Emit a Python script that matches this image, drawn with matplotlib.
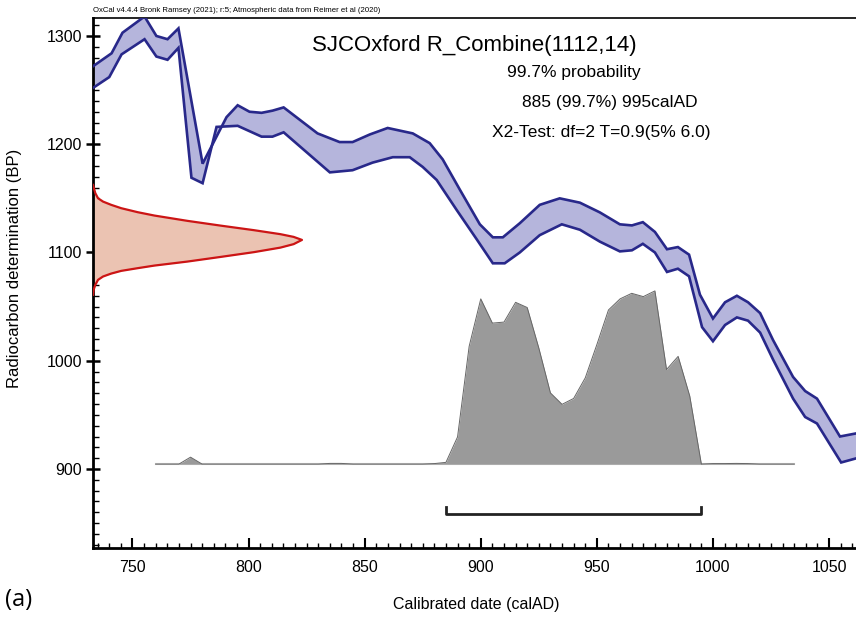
import matplotlib.pyplot as plt
from matplotlib.ticker import MultipleLocator
import numpy as np

plt.rcParams['font.family'] = ['Liberation Sans', 'DejaVu Sans']

# calibration curve (IntCal20), upper and lower 1-sigma edges
upper_years = [733, 741, 745.7, 755.2, 760.3, 765.1, 769.8, 780.2, 790.5, 795.3, 800.4, 805.6,
               810.3, 815.1, 829.7, 839.2, 844.8, 852.2, 859.9, 870.7, 878, 883.6, 891, 899.6,
               905.2, 909.5, 916.8, 925.4, 934, 942.7, 951.3, 959.9, 965.1, 969.8, 975, 980.2,
               984.9, 989.7, 994.4, 1000, 1005.2, 1010.3, 1015.1, 1020.3, 1025.9, 1034.5, 1039.7,
               1044.8, 1054.7, 1062]
upper_bp = [1272, 1284, 1303, 1318, 1300, 1297, 1307, 1182, 1225, 1236, 1230, 1229,
            1231, 1234, 1210, 1202, 1202, 1209, 1215, 1210, 1201, 1186, 1158, 1126,
            1114, 1114, 1127, 1144, 1150, 1146, 1137, 1126, 1125, 1128, 1119, 1103,
            1105, 1098, 1061, 1039, 1054, 1060, 1054, 1044, 1019, 985, 972,
            965, 930, 933]
lower_years = [733, 740, 745.3, 755.2, 760.3, 765.1, 769.8, 775.4, 780.2, 786.2, 795.3, 805.6,
               810.3, 815.1, 835, 844.8, 853.4, 862.1, 869.4, 875, 881, 889.7, 898.3, 905.2,
               910.3, 916.8, 925.4, 934.9, 942.7, 951.3, 959.9, 965.1, 969.8, 975, 980.2, 984.9,
               989.7, 995.3, 1000, 1005.2, 1010.3, 1015.1, 1020.3, 1025.9, 1034.5, 1039.7,
               1044.8, 1055.2, 1062]
lower_bp = [1252, 1262, 1283, 1297, 1281, 1278, 1289, 1169, 1164, 1216, 1217, 1207,
            1207, 1211, 1174, 1176, 1183, 1188, 1188, 1179, 1167, 1139, 1112, 1090,
            1090, 1100, 1116, 1126, 1121, 1110, 1101, 1102, 1108, 1100, 1082, 1085,
            1078, 1031, 1018, 1033, 1040, 1037, 1026, 1001, 965, 948,
            942, 906, 910]

# measured radiocarbon distribution (relative density vs BP)
r_bp = [1162.4, 1154.8, 1150.1, 1147.0, 1144.0, 1140.9, 1137.2, 1134.1, 1129.2, 1124.8,
        1120.6, 1116.9, 1114.4, 1111.6, 1107.7, 1104.5, 1100.3, 1095.9, 1091.6, 1087.9,
        1085.5, 1083.0, 1080.5, 1077.8, 1074.7, 1070.1, 1065.5, 1060.9]
r_dens = [0, 0.011, 0.024, 0.048, 0.087, 0.135, 0.214, 0.294, 0.452, 0.611,
          0.77, 0.897, 0.96, 1.0, 0.96, 0.897, 0.77, 0.611, 0.452, 0.294,
          0.214, 0.135, 0.087, 0.048, 0.024, 0.011, 0.003, 0]

# calibrated distribution (relative probability, 5-year steps from 760 to 1035)
cal_years = list(range(760, 1040, 5))
cal_prob = [0, 0, 0, 0.04, 0, 0, 0, 0, 0, 0, 0, 0, 0, 0, 0,          # 760-830
            0.004, 0.004, 0, 0, 0, 0, 0, 0, 0, 0.003,                # 835-880
            0.01, 0.157, 0.68, 0.954, 0.814, 0.82, 0.934, 0.904,     # 885-920
            0.67, 0.411, 0.345, 0.379, 0.498, 0.69, 0.89, 0.954,     # 925-960
            0.986, 0.967, 1.0, 0.546, 0.622, 0.393, 0.0,             # 965-995
            0.003, 0.003, 0.004, 0.003, 0, 0, 0, 0]                  # 1000-1035

range_997 = (885, 995)

fig = plt.figure(figsize=(8.56, 6.17), dpi=100)
ax = fig.add_axes([93 / 856, 69 / 617, 1 - 93 / 856, (548 - 18) / 617])

x_min, x_max = 733, 1061.6
y_min, y_max = 827, 1316.6
ax.set_xlim(x_min, x_max)
ax.set_ylim(y_min, y_max)

# calibration band
poly_x = upper_years + lower_years[::-1]
poly_y = upper_bp + lower_bp[::-1]
ax.fill(poly_x, poly_y, color='#b5b5dc', lw=0, zorder=2)
ax.plot(upper_years, upper_bp, color='#28288a', lw=1.9, zorder=3, solid_joinstyle='miter')
ax.plot(lower_years, lower_bp, color='#28288a', lw=1.9, zorder=3, solid_joinstyle='miter')

# radiocarbon determination on the y axis
r_scale = 90
r_x = x_min + r_scale * np.array(r_dens)
ax.fill_betweenx(r_bp, x_min, r_x, color='#ebc3b2', lw=0, zorder=2)
ax.plot(r_x, r_bp, color='#cc1515', lw=1.6, zorder=3)

# calibrated probability
base = 904.5
p_scale = 160
p_y = base + p_scale * np.array(cal_prob)
ax.plot([cal_years[0], cal_years[-1]], [base, base], color='#c8c8c8', lw=1.5, zorder=2)
ax.fill_between(cal_years, base, p_y, color='#9a9a9a', lw=0, zorder=2)
ax.plot(cal_years, p_y, color='#666666', lw=0.7, zorder=2)

# 99.7% range bracket
bar_y = 858.6
ax.plot([range_997[0], range_997[0], range_997[1], range_997[1]],
        [bar_y + 6, bar_y, bar_y, bar_y + 6], color='#222222', lw=2, zorder=3)

# axes styling
for side in ['left', 'bottom']:
    ax.spines[side].set_linewidth(2)
ax.spines['top'].set_linewidth(1.2)
ax.spines['right'].set_visible(False)

ax.set_xticks(range(750, 1051, 50))
ax.xaxis.set_minor_locator(MultipleLocator(5))
ax.set_yticks(range(900, 1301, 100))
ax.yaxis.set_minor_locator(MultipleLocator(10))
ax.tick_params(axis='x', which='major', direction='in', length=7.5, width=1.5, pad=9, labelsize=11.5)
ax.tick_params(axis='x', which='minor', direction='in', length=3.8, width=1)
ax.tick_params(axis='y', which='major', direction='inout', length=10, width=1.8, pad=3, labelsize=11.5)
ax.tick_params(axis='y', which='minor', direction='in', length=4, width=1)

# texts
fig.text(93 / 856, 1 - 11 / 617, 'OxCal v4.4.4 Bronk Ramsey (2021); r:5; Atmospheric data from Reimer et al (2020)',
         fontsize=5.6, va='center', ha='left')
fig.text(312 / 856, 1 - 45 / 617, 'SJCOxford R_Combine(1112,14)', fontsize=16, va='center', ha='left')
fig.text(507 / 856, 1 - 73 / 617, '99.7% probability', fontsize=12.5, va='center', ha='left')
fig.text(522 / 856, 1 - 103 / 617, '885 (99.7%) 995calAD', fontsize=12.5, va='center', ha='left')
fig.text(492 / 856, 1 - 132 / 617, 'X2-Test: df=2 T=0.9(5% 6.0)', fontsize=12.5, va='center', ha='left')

fig.text(15 / 856, 1 - 268 / 617, 'Radiocarbon determination (BP)', rotation=90,
         fontsize=12, va='center', ha='center')
fig.text(476 / 856, 1 - 604 / 617, 'Calibrated date (calAD)', fontsize=11.5, va='center', ha='center')
fig.text(5 / 856, 1 - 600 / 617, '(a)', fontsize=17, va='center', ha='left', family=['Open Sans', 'DejaVu Sans'])

fig.savefig('out.png', dpi=100)
